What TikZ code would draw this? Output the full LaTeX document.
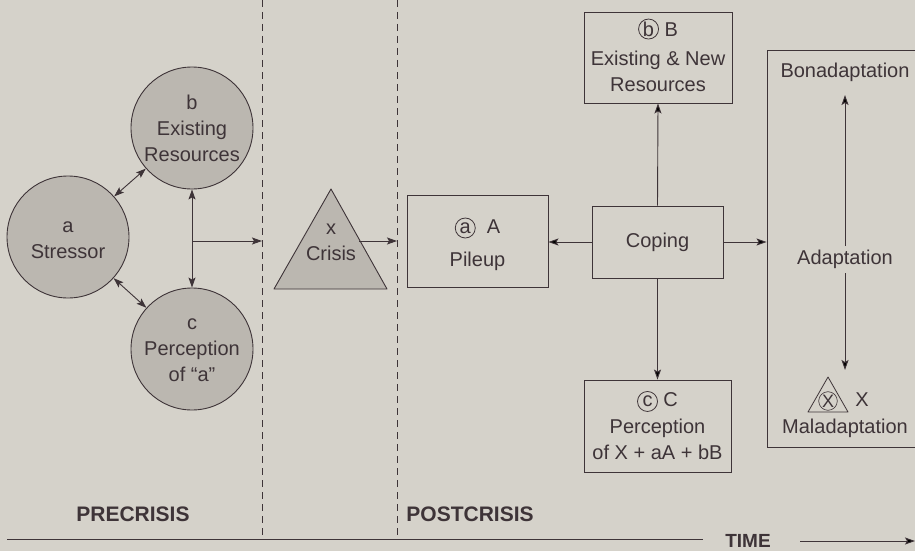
\documentclass[tikz,border=0pt]{standalone}
\usepackage{fontspec}
\setmainfont{Liberation Sans}
\usetikzlibrary{arrows.meta,calc}
\definecolor{bg}{RGB}{213,210,202}
\definecolor{cfill}{RGB}{187,183,176}
\definecolor{ink}{RGB}{62,52,56}
\newcommand\circled[1]{\tikz[baseline=(cc.base),x=1pt,y=1pt]\node[draw=ink,circle,line width=0.8pt,inner sep=0pt,minimum size=20pt](cc){#1};}
\begin{document}
\begin{tikzpicture}[x=1pt,y=-1pt,
  every node/.style={text=ink},
  txt/.style={font=\fontsize{20}{26}\selectfont,align=center,inner sep=0pt},
  lbl/.style={font=\fontsize{21}{24}\selectfont\bfseries,inner sep=0pt},
  bub/.style={draw=ink,line width=0.9pt,fill=cfill,circle,minimum size=122pt,inner sep=0pt,txt},
  boxn/.style={draw=ink,line width=0.9pt,rectangle,inner sep=0pt,txt},
  con/.style={draw=ink,line width=0.9pt,-{Stealth[length=10pt,width=7pt,inset=2pt]}},
  dcon/.style={draw=ink,line width=0.9pt,{Stealth[length=10pt,width=7pt,inset=2pt]}-{Stealth[length=10pt,width=7pt,inset=2pt]}},
  divider/.style={draw=ink,line width=0.8pt,dash pattern=on 7pt off 5pt}]
\fill[bg] (0,0) rectangle (915,551);
\useasboundingbox (0,0) rectangle (915,551);
% dividers
\coordinate (d1t) at (262,0); \coordinate (d1b) at (262,539);
\coordinate (d2t) at (397,0); \coordinate (d2b) at (397,539);
\draw[divider] (d1t) -- (d1b);
\draw[divider] (d2t) -- (d2b);
% circles
\node[bub] (a) at (68,237) {};
\node[txt] (atxt) at (68,240) {a\\Stressor};
\node[bub] (b) at (192,128) {b\\Existing\\Resources};
\node[bub] (c) at (192,349) {};
\node[txt] (ctxt) at (192,350) {c\\Perception\\of “a”};
\draw[dcon] (a) -- (b);
\draw[dcon] (a) -- (c);
\draw[dcon] (b.south) -- (c.north);
\coordinate (br) at (192,241);
\coordinate (brend) at (262,241);
\draw[con] (br) -- (brend);
% triangle crisis
\coordinate (tA) at (331,189); \coordinate (tL) at (274,289); \coordinate (tR) at (387,289);
\draw[draw=ink,line width=0.9pt,fill=cfill,line join=round] (tA) -- (tR) -- (tL) -- cycle;
\node[txt] (x) at (331,242) {x\\Crisis};
\coordinate (tout) at (359,241);
\coordinate (tend) at (397,241);
\draw[con] (tout) -- (tend);
% boxes
\node[boxn,minimum width=141pt,minimum height=92pt] (A) at (477.5,241) {};
\node[txt] (Al1) at (477.5,228) {\circled{a}\ \ A};
\node[txt] (Al2) at (477.5,261) {Pileup};
\node[boxn,minimum width=131pt,minimum height=72pt] (cop) at (657.5,242) {Coping};
\node[boxn,minimum width=148pt,minimum height=91pt] (B) at (658,57.5) {};
\node[txt] (Btxt) at (658,55) {\circled{b}\ B\\[3pt]Existing \& New\\Resources};
\node[boxn,minimum width=147pt,minimum height=92pt] (C) at (657.5,426) {};
\node[txt] (Ctxt) at (657.5,425.5) {\circled{c}\ C\\[1pt]Perception\\of X + aA + bB};
\node[boxn,minimum width=150pt,minimum height=397pt] (ad) at (842,248.5) {};
\draw[con] (cop.west) -- (A.east |- cop.west);
\draw[con] (cop.east) -- (ad.west |- cop.east);
\draw[con] (cop.north) -- (B.south);
\draw[con] (cop.south) -- (C.north);
% adaptation contents
\node[txt] (bona) at (845,72) {Bonadaptation};
\node[txt] (adt) at (845,259) {Adaptation};
\node[txt] (mala) at (845,428) {Maladaptation};
\coordinate (adtop) at (845,246);
\coordinate (adbot) at (845,273);
\coordinate (bonatip) at (845,95);
\coordinate (malatip) at (845,370);
\draw[con] (adtop) -- (bonatip);
\draw[con] (adbot) -- (malatip);
\coordinate (mA) at (828,377); \coordinate (mL) at (808,412); \coordinate (mR) at (848,412);
\draw[draw=ink,line width=0.8pt,line join=round] (mA) -- (mR) -- (mL) -- cycle;
\node[txt,font=\fontsize{18}{20}\selectfont,draw=ink,circle,line width=0.6pt,inner sep=0.5pt] (mx) at (828,401) {X};
\node[txt] (mx2) at (862,400) {X};
% time axis
\node[lbl] (pre) at (133,514) {PRECRISIS};
\node[lbl] (post) at (470,514) {POSTCRISIS};
\node[lbl,font=\fontsize{19}{22}\selectfont\bfseries] (time) at (748,541) {TIME};
\coordinate (tl0) at (7,539); \coordinate (tl1) at (703,539);
\draw[draw=ink,line width=0.9pt] (tl0) -- (tl1);
\coordinate (ta0) at (800,541); \coordinate (ta1) at (915,541);
\draw[con] (ta0) -- (ta1);
\end{tikzpicture}
\end{document}
